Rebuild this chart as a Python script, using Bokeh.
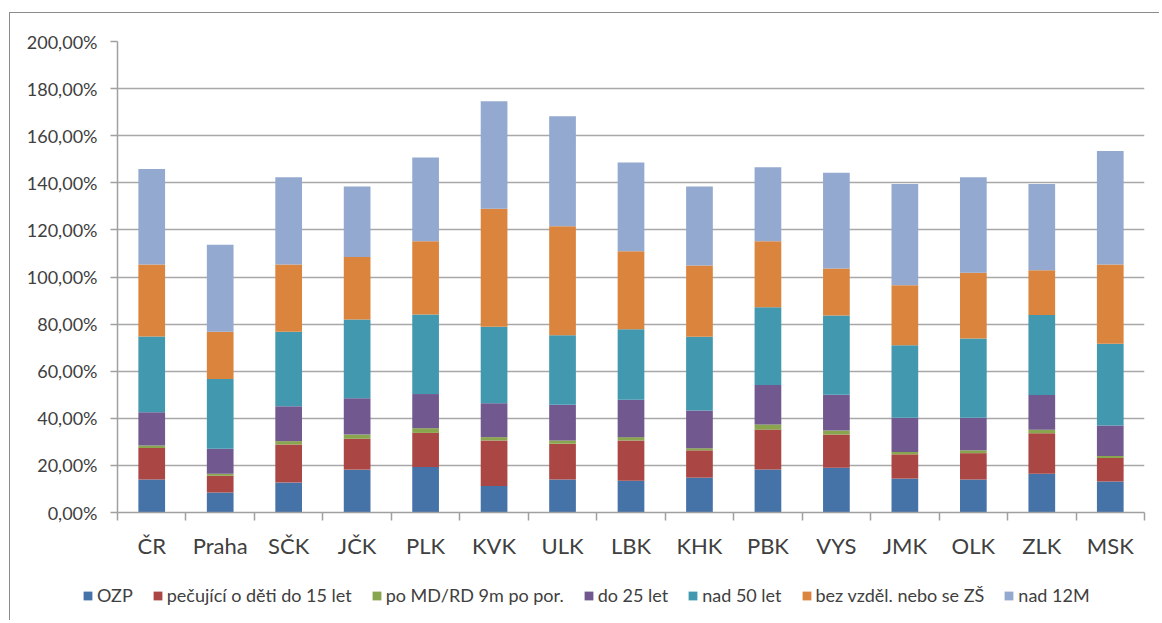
from bokeh.plotting import figure
from bokeh.models import ColumnDataSource, Range1d, FixedTicker, Legend, LegendItem
from bokeh.embed import file_html
from bokeh.resources import INLINE

categories = ["ČR", "Praha", "SČK", "JČK", "PLK", "KVK", "ULK", "LBK", "KHK",
              "PBK", "VYS", "JMK", "OLK", "ZLK", "MSK"]
series_names = ["OZP", "pečující o děti do 15 let", "po MD/RD 9m po por.",
                "do 25 let", "nad 50 let", "bez vzděl. nebo se ZŠ", "nad 12M"]
ozp = [14.0, 8.5, 12.7, 18.2, 19.3, 11.3, 14.0, 13.5, 14.8, 18.3, 19.0, 14.4, 14.0, 16.5, 13.2]
pecujici = [13.4, 7.1, 16.2, 13.1, 14.5, 19.3, 15.2, 17.1, 11.6, 16.9, 14.1, 10.3, 11.2, 17.2, 9.9]
po_md = [1.1, 0.9, 1.4, 1.8, 2.0, 1.4, 1.4, 1.4, 0.9, 2.2, 1.7, 1.0, 1.2, 1.4, 0.9]
do25 = [14.1, 10.6, 14.8, 15.4, 14.5, 14.4, 15.2, 15.9, 16.0, 16.7, 15.2, 14.5, 13.8, 14.8, 12.9]
nad50 = [32.1, 29.6, 31.7, 33.5, 33.8, 32.5, 29.5, 29.9, 31.3, 33.1, 33.7, 30.8, 33.7, 34.0, 34.8]
bez_vzdel = [30.6, 20.1, 28.5, 26.5, 31.1, 50.1, 46.2, 33.1, 30.3, 28.0, 19.9, 25.5, 27.9, 19.0, 33.6]
nad12m = [40.6, 36.9, 37.1, 29.9, 35.5, 45.6, 46.8, 37.7, 33.5, 31.4, 40.7, 43.0, 40.6, 36.6, 48.2]
y_ticks = [0, 20, 40, 60, 80, 100, 120, 140, 160, 180, 200]

colors = ["#4572A7", "#AA4643", "#89A54E", "#71588F", "#4198AF", "#DB843D", "#93A9CF"]
keys = ["s0", "s1", "s2", "s3", "s4", "s5", "s6"]
FONT = "Lato"
TXT = "#404040"
AXC = "#a0a0a0"
BORDER = "1px solid #8c8c8c"

n = len(categories)
centers = [i + 0.5 for i in range(n)]
data = dict(x=centers)
for k, v in zip(keys, [ozp, pecujici, po_md, do25, nad50, bez_vzdel, nad12m]):
    data[k] = v
source = ColumnDataSource(data)

# ---- main chart
p = figure(width=1150, height=558, output_backend="svg", toolbar_location=None,
           x_range=Range1d(0, n), y_range=Range1d(0, 200),
           min_border_left=107, min_border_top=28, min_border_right=16, min_border_bottom=59)
p.margin = (12, 0, 0, 9)
p.styles = {"border-top": BORDER, "border-left": BORDER}
p.outline_line_color = None
p.background_fill_color = "white"

p.vbar_stack(keys, x="x", width=0.39, source=source, color=colors, line_color=None)

xa = p.xaxis[0]
xa.ticker = FixedTicker(ticks=centers, minor_ticks=list(range(n + 1)))
xa.major_label_overrides = {c: name for c, name in zip(centers, categories)}
xa.major_tick_out = 0
xa.major_tick_in = 0
xa.minor_tick_out = 8
xa.minor_tick_in = 0
xa.minor_tick_line_color = AXC
xa.minor_tick_line_width = 1.5
xa.axis_line_color = AXC
xa.axis_line_width = 1.5
xa.major_label_text_font = FONT
xa.major_label_text_font_size = "22px"
xa.major_label_text_color = TXT
xa.major_label_standoff = 11

ya = p.yaxis[0]
ya.ticker = FixedTicker(ticks=y_ticks)
ya.major_label_overrides = {t: f"{t},00%" for t in y_ticks}
ya.major_tick_out = 7
ya.major_tick_in = 0
ya.minor_tick_out = 0
ya.minor_tick_in = 0
ya.major_tick_line_color = AXC
ya.major_tick_line_width = 1.5
ya.axis_line_color = AXC
ya.axis_line_width = 1.5
ya.major_label_text_font = FONT
ya.major_label_text_font_size = "18px"
ya.major_label_text_color = TXT
ya.major_label_standoff = 13

p.xgrid.grid_line_color = None
p.ygrid.ticker = FixedTicker(ticks=y_ticks)
p.ygrid.grid_line_color = "#a8a8a8"
p.ygrid.grid_line_width = 1.5

# ---- legend strip: a second root, so that the legend is not clipped by the chart frame
lp = figure(width=1150, height=50, output_backend="svg", toolbar_location=None,
            x_range=Range1d(0, 1), y_range=Range1d(0, 1),
            x_axis_type=None, y_axis_type=None,
            min_border_left=0, min_border_right=0, min_border_top=0, min_border_bottom=0)
lp.margin = (0, 0, 0, 9)
lp.styles = {"border-left": BORDER}
lp.outline_line_color = None
lp.xgrid.grid_line_color = None
lp.ygrid.grid_line_color = None
nan = float("nan")
swatches = [lp.vbar(x=[nan], top=[nan], width=0.1, color=c, line_color=None) for c in colors]
items = [LegendItem(label=name, renderers=[r]) for name, r in zip(series_names, swatches)]
legend = Legend(items=items, orientation="horizontal", location=(72, 14),
                glyph_width=11, glyph_height=11, label_standoff=4, spacing=19,
                padding=0, margin=0, border_line_color=None, background_fill_alpha=0,
                label_text_font=FONT, label_text_font_size="18px", label_text_color=TXT)
lp.add_layout(legend, "center")

open("out.html", "w").write(file_html([p, lp], INLINE))
